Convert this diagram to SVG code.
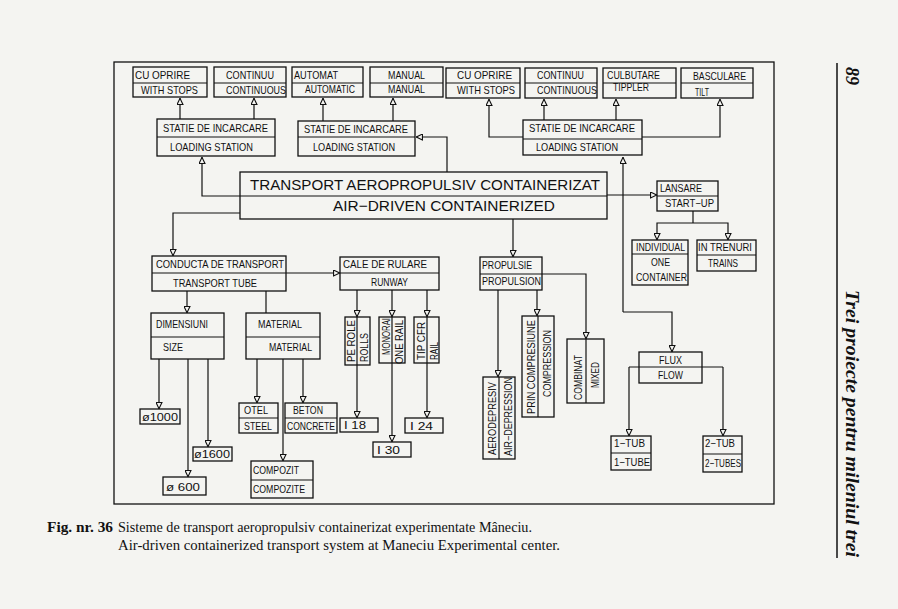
<svg xmlns="http://www.w3.org/2000/svg" width="898" height="609" viewBox="0 0 898 609">
<defs>
<marker id="ah" viewBox="0 0 10 10" refX="10" refY="5" markerWidth="7" markerHeight="7" markerUnits="userSpaceOnUse" orient="auto">
<path d="M0.8,0.8 L9.5,5 L0.8,9.2 Z" fill="#f4f4f1" stroke="#111" stroke-width="1.6"/>
</marker>
</defs>
<style>
.b{fill:none;stroke:#111;stroke-width:1.3}
.l{fill:none;stroke:#111;stroke-width:1.2}
.a{fill:none;stroke:#111;stroke-width:1.2;marker-end:url(#ah)}
text{font-family:"Liberation Sans",Arial,sans-serif;font-size:10.5px;fill:#111}
.big{font-size:15px}
.cap{font-family:"Liberation Serif","Times New Roman",serif;font-size:14.5px}
.hd{font-family:"Liberation Serif","Times New Roman",serif;font-size:18px;font-weight:bold;font-style:italic}
</style>
<rect width="898" height="609" fill="#f4f4f1"/>
<rect x="114" y="62" width="660" height="442" class="b"/>

<g id="connectors">
<path class="a" d="M180 119V98"/>
<path class="a" d="M254 119V98"/>
<path class="a" d="M323 121V98"/>
<path class="a" d="M393 121V98"/>
<path class="a" d="M447 172V137H416"/>
<path class="a" d="M523 137H489V99"/>
<path class="a" d="M642 137H720V99"/>
<path class="a" d="M544 120V99"/>
<path class="a" d="M616 120V99"/>
<path class="a" d="M623 312V157"/>
<path class="a" d="M623 312H672V352"/>
<path class="a" d="M240 196H202V157"/>
<path class="a" d="M240 213H173V256"/>
<path class="a" d="M513 219V257"/>
<path class="a" d="M607 195H657"/>
<path class="l" d="M693 211V223"/>
<path class="a" d="M693 223H657V240"/>
<path class="a" d="M693 223H728V240"/>
<path class="a" d="M286 273H340"/>
<path class="a" d="M187 291V313"/>
<path class="l" d="M266 291V313"/>
<path class="a" d="M159 359V409"/>
<path class="a" d="M188 359V477"/>
<path class="a" d="M208 359V447"/>
<path class="a" d="M257 359V403"/>
<path class="a" d="M303 359V403"/>
<path class="a" d="M283 359V461"/>
<path class="a" d="M357 290V317"/>
<path class="a" d="M357 365V418"/>
<path class="a" d="M392 290V317"/>
<path class="a" d="M392 363V442"/>
<path class="a" d="M427 290V317"/>
<path class="a" d="M427 363V418"/>
<path class="a" d="M498 290V377"/>
<path class="a" d="M537 290V316"/>
<path class="a" d="M542 274H586V339"/>
<path class="l" d="M629 367H723"/>
<path class="a" d="M629 367V436"/>
<path class="a" d="M723 367V436"/>
</g>

<g id="n-cu-oprire-1"><rect x="133" y="67" width="74" height="30" class="b"/><path class="l" d="M133 83H207"/>
<text x="135" y="79" textLength="55" lengthAdjust="spacingAndGlyphs">CU  OPRIRE</text>
<text x="141" y="94" textLength="57" lengthAdjust="spacingAndGlyphs">WITH  STOPS</text></g>
<g id="n-continuu-1"><rect x="214" y="67" width="72" height="30" class="b"/><path class="l" d="M214 83H286"/>
<text x="226" y="79" textLength="48" lengthAdjust="spacingAndGlyphs">CONTINUU</text>
<text x="226" y="94" textLength="60" lengthAdjust="spacingAndGlyphs">CONTINUOUS</text></g>
<g id="n-automat"><rect x="292" y="67" width="71" height="30" class="b"/><path class="l" d="M292 83H363"/>
<text x="294" y="79" textLength="44" lengthAdjust="spacingAndGlyphs">AUTOMAT</text>
<text x="305" y="93" textLength="50" lengthAdjust="spacingAndGlyphs">AUTOMATIC</text></g>
<g id="n-manual"><rect x="370" y="67" width="73" height="30" class="b"/><path class="l" d="M370 83H443"/>
<text x="388" y="79" textLength="37" lengthAdjust="spacingAndGlyphs">MANUAL</text>
<text x="388" y="93" textLength="37" lengthAdjust="spacingAndGlyphs">MANUAL</text></g>
<g id="n-cu-oprire-2"><rect x="446" y="68" width="74" height="30" class="b"/><path class="l" d="M446 83H520"/>
<text x="457" y="79" textLength="55" lengthAdjust="spacingAndGlyphs">CU  OPRIRE</text>
<text x="457" y="94" textLength="58" lengthAdjust="spacingAndGlyphs">WITH  STOPS</text></g>
<g id="n-continuu-2"><rect x="525" y="68" width="72" height="30" class="b"/><path class="l" d="M525 83H597"/>
<text x="537" y="79" textLength="47" lengthAdjust="spacingAndGlyphs">CONTINUU</text>
<text x="537" y="94" textLength="60" lengthAdjust="spacingAndGlyphs">CONTINUOUS</text></g>
<g id="n-culbutare"><rect x="603" y="68" width="73" height="30" class="b"/><path class="l" d="M603 83H676"/>
<text x="607" y="79" textLength="53" lengthAdjust="spacingAndGlyphs">CULBUTARE</text>
<text x="613" y="91" textLength="36" lengthAdjust="spacingAndGlyphs">TIPPLER</text></g>
<g id="n-basculare"><rect x="681" y="68" width="72" height="30" class="b"/><path class="l" d="M681 83H753"/>
<text x="693" y="80" textLength="53" lengthAdjust="spacingAndGlyphs">BASCULARE</text>
<text x="695" y="96" textLength="14" lengthAdjust="spacingAndGlyphs">TILT</text></g>

<g id="n-statie-1"><rect x="157" y="119" width="118" height="37" class="b"/><path class="l" d="M157 137H275"/>
<text x="163" y="132" textLength="105" lengthAdjust="spacingAndGlyphs">STATIE  DE  INCARCARE</text>
<text x="170" y="151" textLength="83" lengthAdjust="spacingAndGlyphs">LOADING  STATION</text></g>
<g id="n-statie-2"><rect x="298" y="121" width="117" height="35" class="b"/><path class="l" d="M298 137H415"/>
<text x="304" y="133" textLength="104" lengthAdjust="spacingAndGlyphs">STATIE  DE  INCARCARE</text>
<text x="313" y="151" textLength="82" lengthAdjust="spacingAndGlyphs">LOADING  STATION</text></g>
<g id="n-statie-3"><rect x="523" y="120" width="119" height="35" class="b"/><path class="l" d="M523 139H642"/>
<text x="529" y="132" textLength="106" lengthAdjust="spacingAndGlyphs">STATIE  DE  INCARCARE</text>
<text x="536" y="151" textLength="82" lengthAdjust="spacingAndGlyphs">LOADING  STATION</text></g>

<g id="n-transport"><rect x="240" y="172" width="367" height="47" class="b"/><path class="l" d="M240 196H607"/>
<text class="big" x="250" y="190" textLength="350" lengthAdjust="spacingAndGlyphs">TRANSPORT  AEROPROPULSIV  CONTAINERIZAT</text>
<text class="big" x="333" y="211" textLength="222" lengthAdjust="spacingAndGlyphs">AIR−DRIVEN  CONTAINERIZED</text></g>

<g id="n-lansare"><rect x="657" y="181" width="61" height="30" class="b"/><path class="l" d="M657 196H718"/>
<text x="660" y="192" textLength="42" lengthAdjust="spacingAndGlyphs">LANSARE</text>
<text x="665" y="207" textLength="49" lengthAdjust="spacingAndGlyphs">START−UP</text></g>
<g id="n-individual"><rect x="632" y="240" width="56" height="45" class="b"/><path class="l" d="M632 254H688"/>
<text x="636" y="251" textLength="49" lengthAdjust="spacingAndGlyphs">INDIVIDUAL</text>
<text x="651" y="266" textLength="19" lengthAdjust="spacingAndGlyphs">ONE</text>
<text x="636" y="281" textLength="51" lengthAdjust="spacingAndGlyphs">CONTAINER</text></g>
<g id="n-trenuri"><rect x="697" y="240" width="59" height="31" class="b"/><path class="l" d="M697 255H756"/>
<text x="698" y="251" textLength="54" lengthAdjust="spacingAndGlyphs">IN  TRENURI</text>
<text x="708" y="267" textLength="30" lengthAdjust="spacingAndGlyphs">TRAINS</text></g>

<g id="n-conducta"><rect x="152" y="256" width="134" height="35" class="b"/><path class="l" d="M152 273H286"/>
<text x="156" y="268" textLength="128" lengthAdjust="spacingAndGlyphs">CONDUCTA  DE  TRANSPORT</text>
<text x="173" y="287" textLength="84" lengthAdjust="spacingAndGlyphs">TRANSPORT  TUBE</text></g>
<g id="n-cale"><rect x="340" y="257" width="99" height="33" class="b"/><path class="l" d="M340 273H439"/>
<text x="343" y="268" textLength="84" lengthAdjust="spacingAndGlyphs">CALE  DE  RULARE</text>
<text x="371" y="286" textLength="37" lengthAdjust="spacingAndGlyphs">RUNWAY</text></g>
<g id="n-propulsie"><rect x="480" y="257" width="62" height="33" class="b"/><path class="l" d="M480 274H542"/>
<text x="482" y="269" textLength="50" lengthAdjust="spacingAndGlyphs">PROPULSIE</text>
<text x="482" y="285" textLength="59" lengthAdjust="spacingAndGlyphs">PROPULSION</text></g>

<g id="n-dimensiuni"><rect x="151" y="313" width="73" height="46" class="b"/><path class="l" d="M151 337H224"/>
<text x="156" y="328" textLength="52" lengthAdjust="spacingAndGlyphs">DIMENSIUNI</text>
<text x="163" y="351" textLength="20" lengthAdjust="spacingAndGlyphs">SIZE</text></g>
<g id="n-material"><rect x="246" y="313" width="74" height="46" class="b"/><path class="l" d="M246 337H320"/>
<text x="258" y="328" textLength="44" lengthAdjust="spacingAndGlyphs">MATERIAL</text>
<text x="269" y="351" textLength="43" lengthAdjust="spacingAndGlyphs">MATERIAL</text></g>

<g id="n-d1000"><rect x="140" y="409" width="40" height="15" class="b"/>
<text x="142" y="421" textLength="36" lengthAdjust="spacingAndGlyphs">ø1000</text></g>
<g id="n-d1600"><rect x="193" y="447" width="39" height="14" class="b"/>
<text x="194" y="458" textLength="36" lengthAdjust="spacingAndGlyphs">ø1600</text></g>
<g id="n-d600"><rect x="163" y="477" width="43" height="18" class="b"/>
<text x="166" y="491" textLength="34" lengthAdjust="spacingAndGlyphs">ø  600</text></g>

<g id="n-otel"><rect x="239" y="403" width="39" height="30" class="b"/><path class="l" d="M239 418H278"/>
<text x="244" y="414" textLength="24" lengthAdjust="spacingAndGlyphs">OTEL</text>
<text x="244" y="430" textLength="28" lengthAdjust="spacingAndGlyphs">STEEL</text></g>
<g id="n-beton"><rect x="285" y="403" width="52" height="30" class="b"/><path class="l" d="M285 418H337"/>
<text x="293" y="414" textLength="30" lengthAdjust="spacingAndGlyphs">BETON</text>
<text x="287" y="430" textLength="48" lengthAdjust="spacingAndGlyphs">CONCRETE</text></g>
<g id="n-compozit"><rect x="251" y="461" width="62" height="37" class="b"/><path class="l" d="M251 480H313"/>
<text x="253" y="474" textLength="46" lengthAdjust="spacingAndGlyphs">COMPOZIT</text>
<text x="253" y="493" textLength="52" lengthAdjust="spacingAndGlyphs">COMPOZITE</text></g>

<g id="n-pe-role"><rect x="345" y="317" width="25" height="48" class="b"/><path class="l" d="M357 317V365"/>
<text transform="translate(355 362) rotate(-90)" textLength="42" lengthAdjust="spacingAndGlyphs">PE  ROLE</text>
<text transform="translate(368 362) rotate(-90)" textLength="29" lengthAdjust="spacingAndGlyphs">ROLLS</text></g>
<g id="n-monorai"><rect x="379" y="317" width="26" height="46" class="b"/><path class="l" d="M392 317V363"/>
<text transform="translate(390 355) rotate(-90)" textLength="37" lengthAdjust="spacingAndGlyphs">MONORAI</text>
<text transform="translate(403 364) rotate(-90)" textLength="44" lengthAdjust="spacingAndGlyphs">ONE  RAIL</text></g>
<g id="n-tip-cfr"><rect x="414" y="317" width="25" height="46" class="b"/><path class="l" d="M427 317V363"/>
<text transform="translate(425 360) rotate(-90)" textLength="38" lengthAdjust="spacingAndGlyphs">TIP  CFR</text>
<text transform="translate(438 360) rotate(-90)" textLength="18" lengthAdjust="spacingAndGlyphs">RAIL</text></g>

<g id="n-i18"><rect x="340" y="418" width="38" height="14" class="b"/>
<text x="344" y="429" textLength="22" lengthAdjust="spacingAndGlyphs">I  18</text></g>
<g id="n-i30"><rect x="373" y="442" width="38" height="15" class="b"/>
<text x="377" y="454" textLength="23" lengthAdjust="spacingAndGlyphs">I  30</text></g>
<g id="n-i24"><rect x="405" y="418" width="38" height="15" class="b"/>
<text x="410" y="430" textLength="23" lengthAdjust="spacingAndGlyphs">I  24</text></g>

<g id="n-aerodepresiv"><rect x="483" y="377" width="32" height="82" class="b"/><path class="l" d="M499 377V459"/>
<text transform="translate(496 455) rotate(-90)" textLength="73" lengthAdjust="spacingAndGlyphs">AERODEPRESIV</text>
<text transform="translate(512 456) rotate(-90)" textLength="79" lengthAdjust="spacingAndGlyphs">AIR−DEPRESSION</text></g>
<g id="n-compresiune"><rect x="522" y="316" width="32" height="101" class="b"/><path class="l" d="M538 316V417"/>
<text transform="translate(535 414) rotate(-90)" textLength="94" lengthAdjust="spacingAndGlyphs">PRIN  COMPRESIUNE</text>
<text transform="translate(551 397) rotate(-90)" textLength="67" lengthAdjust="spacingAndGlyphs">COMPRESSION</text></g>
<g id="n-combinat"><rect x="567" y="339" width="37" height="64" class="b"/><path class="l" d="M586 339V403"/>
<text transform="translate(582 400) rotate(-90)" textLength="45" lengthAdjust="spacingAndGlyphs">COMBINAT</text>
<text transform="translate(599 388) rotate(-90)" textLength="26" lengthAdjust="spacingAndGlyphs">MIXED</text></g>

<g id="n-flux"><rect x="639" y="352" width="63" height="31" class="b"/>
<text x="659" y="364" textLength="23" lengthAdjust="spacingAndGlyphs">FLUX</text>
<text x="658" y="379" textLength="25" lengthAdjust="spacingAndGlyphs">FLOW</text></g>
<g id="n-1-tub"><rect x="611" y="436" width="40" height="34" class="b"/><path class="l" d="M611 453H651"/>
<text x="614" y="447" textLength="31" lengthAdjust="spacingAndGlyphs">1−TUB</text>
<text x="614" y="466" textLength="36" lengthAdjust="spacingAndGlyphs">1−TUBE</text></g>
<g id="n-2-tub"><rect x="703" y="436" width="39" height="36" class="b"/><path class="l" d="M703 454H742"/>
<text x="705" y="447" textLength="30" lengthAdjust="spacingAndGlyphs">2−TUB</text>
<text x="705" y="467" textLength="36" lengthAdjust="spacingAndGlyphs">2−TUBES</text></g>

<g id="caption">
<text class="cap" x="47" y="532" font-weight="bold" textLength="66" lengthAdjust="spacingAndGlyphs">Fig. nr. 36</text>
<text class="cap" x="118" y="532" textLength="414" lengthAdjust="spacingAndGlyphs">Sisteme de transport aeropropulsiv containerizat experimentate Mâneciu.</text>
<text class="cap" x="118" y="550" textLength="442" lengthAdjust="spacingAndGlyphs">Air-driven containerized transport system at Maneciu Experimental center.</text>
</g>
<g id="header">
<path d="M837 63V558" stroke="#111" stroke-width="1.5"/>
<text class="hd" transform="translate(846 67) rotate(90)">89</text>
<text class="hd" transform="translate(846 290) rotate(90)" textLength="267" lengthAdjust="spacingAndGlyphs">Trei proiecte pentru mileniul trei</text>
</g>
</svg>
